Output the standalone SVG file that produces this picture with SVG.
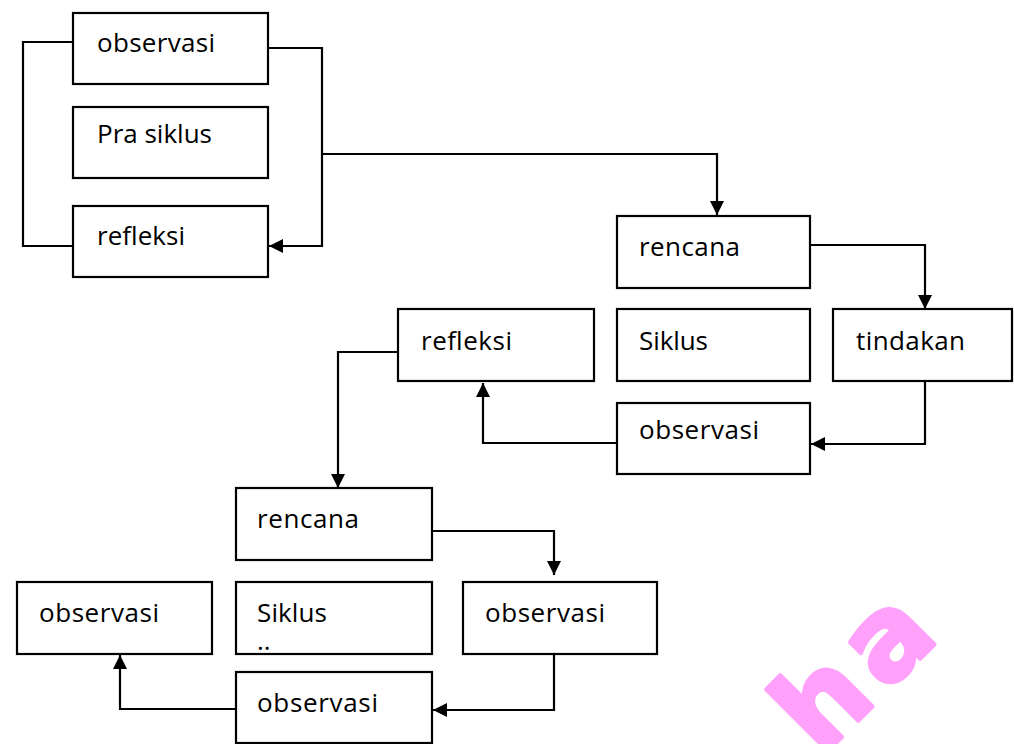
<svg xmlns="http://www.w3.org/2000/svg" width="1014" height="744" viewBox="0 0 1014 744">
<style>
.box{fill:#fff;stroke:#000;stroke-width:2.2}
.lbl{font-family:"Open Sans","Noto Sans",sans-serif;font-size:26px;fill:#000}
.con{fill:none;stroke:#000;stroke-width:2.2}
.wm{font-family:"DejaVu Sans","Liberation Sans",sans-serif;font-weight:bold;font-size:115px;fill:#ffa1fb;stroke:#ffa1fb;stroke-width:4;stroke-linejoin:round;letter-spacing:10px}
</style>
<defs>
<marker id="ah" markerUnits="userSpaceOnUse" markerWidth="14" markerHeight="14" viewBox="0 0 14 14" refX="14" refY="7" orient="auto">
<path d="M0,0 L14,7 L0,14 Z" fill="#000"/>
</marker>
</defs>
<rect width="1014" height="744" fill="#fff"/>
<g id="connectors">
<path class="con" d="M73,42 H23 V246 H73"/>
<path class="con" d="M268,48 H322 V246 H269" marker-end="url(#ah)"/>
<path class="con" d="M322,154 H717 V215" marker-end="url(#ah)"/>
<path class="con" d="M810,245 H925 V309" marker-end="url(#ah)"/>
<path class="con" d="M925,381 V444 H811" marker-end="url(#ah)"/>
<path class="con" d="M617,443 H483 V383" marker-end="url(#ah)"/>
<path class="con" d="M398,352 H338 V488" marker-end="url(#ah)"/>
<path class="con" d="M432,531 H554 V575" marker-end="url(#ah)"/>
<path class="con" d="M554,646 V710 H433" marker-end="url(#ah)"/>
<path class="con" d="M236,709 H120 V655" marker-end="url(#ah)"/>
</g>
<g id="n-observasi-pra"><rect class="box" x="73" y="13" width="195" height="71"/><text class="lbl" x="97" y="52" textLength="118" lengthAdjust="spacing">observasi</text></g>
<g id="n-prasiklus"><rect class="box" x="73" y="107" width="195" height="71"/><text class="lbl" x="97" y="143" textLength="115" lengthAdjust="spacing">Pra siklus</text></g>
<g id="n-refleksi-pra"><rect class="box" x="73" y="206" width="195" height="71"/><text class="lbl" x="97" y="245" textLength="88" lengthAdjust="spacing">refleksi</text></g>
<g id="n-rencana1"><rect class="box" x="617" y="216" width="193" height="72"/><text class="lbl" x="639" y="256" textLength="101" lengthAdjust="spacing">rencana</text></g>
<g id="n-siklus1"><rect class="box" x="617" y="309" width="193" height="72"/><text class="lbl" x="639" y="350" textLength="69" lengthAdjust="spacing">Siklus</text></g>
<g id="n-tindakan1"><rect class="box" x="833" y="309" width="179" height="72"/><text class="lbl" x="856" y="350" textLength="109" lengthAdjust="spacing">tindakan</text></g>
<g id="n-observasi1"><rect class="box" x="617" y="403" width="193" height="71"/><text class="lbl" x="639" y="439" textLength="120" lengthAdjust="spacing">observasi</text></g>
<g id="n-refleksi1"><rect class="box" x="398" y="309" width="196" height="72"/><text class="lbl" x="421" y="350" textLength="91" lengthAdjust="spacing">refleksi</text></g>
<g id="n-rencana2"><rect class="box" x="236" y="488" width="196" height="72"/><text class="lbl" x="257" y="528" textLength="102" lengthAdjust="spacing">rencana</text></g>
<g id="n-observasi-left"><rect class="box" x="17" y="582" width="195" height="72"/><text class="lbl" x="39" y="622" textLength="120" lengthAdjust="spacing">observasi</text></g>
<g id="n-siklus2"><rect class="box" x="236" y="582" width="196" height="72"/><text class="lbl" x="257" y="622" textLength="70" lengthAdjust="spacing">Siklus</text><text class="lbl" x="257" y="650">..</text></g>
<g id="n-observasi-right"><rect class="box" x="463" y="582" width="194" height="72"/><text class="lbl" x="485" y="622" textLength="120" lengthAdjust="spacing">observasi</text></g>
<g id="n-observasi-bottom"><rect class="box" x="236" y="672" width="196" height="71"/><text class="lbl" x="257" y="712" textLength="121" lengthAdjust="spacing">observasi</text></g>
<text class="wm" transform="translate(821,758) rotate(-45)">ha</text>
</svg>
